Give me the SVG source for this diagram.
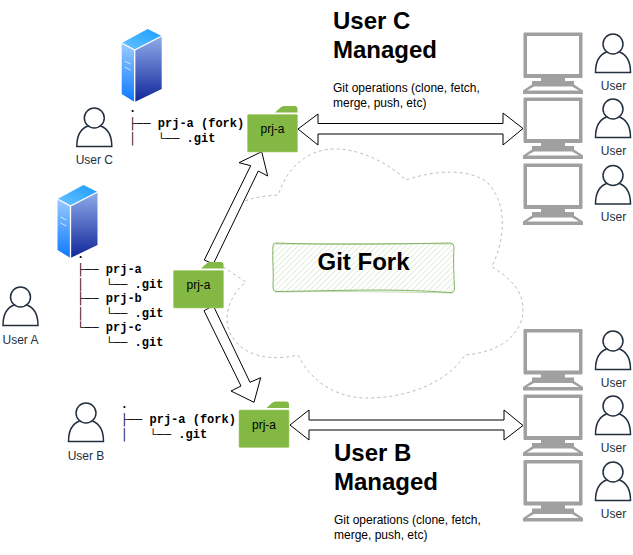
<svg xmlns="http://www.w3.org/2000/svg" xmlns:xlink="http://www.w3.org/1999/xlink" width="633" height="555" viewBox="0 0 633 555">
<style>
text{font-family:"Liberation Sans",Arial,sans-serif}
.lbl{font-size:12px;fill:#232F3E;text-anchor:middle}
.fl{font-size:12px;fill:#000;text-anchor:middle}
.tree{font-family:"Liberation Mono","Courier New",monospace;font-size:12px;font-weight:bold;fill:#000;white-space:pre}
.title{font-size:24px;font-weight:bold;fill:#000}
.note{font-size:12px;fill:#000}
.arrow{fill:#fff;stroke:#000;stroke-width:1;stroke-linejoin:miter}
</style>
<defs>
<linearGradient id="gL" x1="0" y1="0" x2="0" y2="1"><stop offset="0" stop-color="#9CCBFF"/><stop offset="1" stop-color="#0A78FF"/></linearGradient>
<linearGradient id="gR" x1="0" y1="0" x2="0" y2="1"><stop offset="0" stop-color="#8FADEB"/><stop offset="1" stop-color="#10269A"/></linearGradient>
<linearGradient id="gT" x1="0" y1="1" x2="1" y2="0"><stop offset="0" stop-color="#6CC4FF"/><stop offset="1" stop-color="#189CFF"/></linearGradient>
<pattern id="hatch" width="4" height="4" patternUnits="userSpaceOnUse" patternTransform="rotate(45)"><rect width="4" height="4" fill="#fff"/><rect width=".8" height="4" fill="#82B366" opacity=".3"/></pattern>
<g id="server">
<polygon points="0,14 26,0 40,7 13,21" fill="url(#gT)"/>
<polygon points="0,14 13,21 13,73 0,65" fill="url(#gL)"/>
<polygon points="13,21 40,7 40,60 13,73" fill="url(#gR)"/>
<path d="M0,14 13,21 40,7M13,21V73" fill="none" stroke="#fff" stroke-width="1.3"/>
<path d="M3,32 9,35M3,38 9,41" fill="none" stroke="#fff" stroke-width=".8" opacity=".85"/>
</g>
<g id="person" fill="none" stroke="#232F3E" stroke-width="1.500">
<circle cx="0" cy="0" r="10"/>
<path d="M-6.500,8C-13,10.500 -17.500,17.500 -17.500,28.500H17.500C17.500,17.500 13,10.500 6.500,8"/>
</g>
<g id="monitor">
<rect x=".5" y="0" width="59" height="45.500" rx="1" fill="#A0A0A0"/>
<rect x="4" y="3.500" width="52" height="38" fill="#fff"/>
<rect x="18" y="45" width="24" height="4" fill="#A0A0A0"/>
<rect x="9" y="48.500" width="42" height="4" fill="#A0A0A0"/>
<polygon points="9,52 51,52 60,58 60,61.500 0,61.500 0,58" fill="#A0A0A0"/>
<polygon points="11,54 49,54 56,58 4,58" fill="#fff"/>
</g>
<g id="folder">
<path d="M27.500,-2L33,-7Q34.500,-8.500 36.500,-8.500H47Q50,-8.500 50,-5.500V-2Z" fill="#82B843"/>
<rect x="0" y="0" width="50" height="37.500" rx="1" fill="#82B843" stroke="#A8D070" stroke-width=".6"/>
</g>
</defs>
<rect width="633" height="555" fill="#fff"/>

<g id="cloud"><path d="M223,267L246,282C233,292 227,307 227,320C228,345 255,365 298,355C310,380 335,398 367,398C407,398 447,383 465,355C505,352 523,330 523,310C523,290 510,278 491.700,266.700C505,240 508,205 488,183C470,168 435,170 406,180C385,160 355,148 333,149C305,150 286,170 278.300,195C265,196 255,197 245,201" fill="none" stroke="#BDBDBD" stroke-width="1" stroke-dasharray="3 3"/></g>

<g id="connectors">
<polygon class="arrow" points="298,129 318,114 318,123.500 503,123.500 503,113 523,128.500 503,145 503,134 318,134 318,145"/>
<polygon class="arrow" points="290,425 309,410 309,420 504,420 504,410 523,425.500 504,440 504,430 309,430 309,440"/>
<polygon class="arrow" points="204.300,260 250.700,165.700 239,162.700 261.700,151.700 267.700,176 258.300,171 213.300,264"/>
<polygon class="arrow" points="204,310.700 241,386 231,391 254,402.300 260.700,377.700 250,382.300 213.300,305.700"/>
</g>

<g id="server-c"><use href="#server" x="121.700" y="29"/></g>
<g id="server-a"><use href="#server" x="57.500" y="185"/></g>

<g id="user-c"><use href="#person" x="94.300" y="118"/><text class="lbl" x="94.300" y="164">User C</text></g>
<g id="user-a"><use href="#person" x="20.500" y="297"/><text class="lbl" x="20.500" y="344">User A</text></g>
<g id="user-b"><use href="#person" x="86" y="413"/><text class="lbl" x="86" y="460">User B</text></g>

<g id="tree-c">
<text class="tree" x="129" y="112" xml:space="preserve">.</text>
<text class="tree" x="129" y="127" xml:space="preserve">├── prj-a (fork)</text>
<text class="tree" x="129" y="142" xml:space="preserve">│   └── .git</text>
</g>
<g id="tree-a">
<text class="tree" x="77" y="258" xml:space="preserve">.</text>
<text class="tree" x="77" y="273" xml:space="preserve">├── prj-a</text>
<text class="tree" x="77" y="288" xml:space="preserve">│   └── .git</text>
<text class="tree" x="77" y="302" xml:space="preserve">├── prj-b</text>
<text class="tree" x="77" y="317" xml:space="preserve">│   └── .git</text>
<text class="tree" x="77" y="331" xml:space="preserve">└── prj-c</text>
<text class="tree" x="77" y="346" xml:space="preserve">    └── .git</text>
</g>
<g id="tree-b">
<text class="tree" x="120.700" y="408" xml:space="preserve">.</text>
<text class="tree" x="120.700" y="423" xml:space="preserve">├── prj-a (fork)</text>
<text class="tree" x="120.700" y="438" xml:space="preserve">│   └── .git</text>
</g>

<g id="folder-c"><use href="#folder" x="247.500" y="114.500"/><text class="fl" x="272.500" y="133">prj-a</text></g>
<g id="folder-a"><use href="#folder" x="173.500" y="270.500"/><text class="fl" x="198.500" y="289">prj-a</text></g>
<g id="folder-b"><use href="#folder" x="239" y="410"/><text class="fl" x="264" y="429">prj-a</text></g>

<g id="git-fork">
<path d="M276,243C330,245 400,244 450,243Q454,243 454,247C453,260 454,275 454.500,289Q454,293 450,292.500C390,288 330,291 276,291.500Q272.500,291 273,287C274,272 272,258 273,246Q273,243 276,243Z" fill="url(#hatch)" stroke="#82B366" stroke-width="1"/>
<path d="M276,244C330,244 400,243 451,244M275,292C340,291 400,292 453,293" fill="none" stroke="#82B366" stroke-width=".8" opacity=".6"/>
<text x="363.500" y="270" font-size="24" font-weight="bold" text-anchor="middle" fill="#000">Git Fork</text>
</g>

<g id="label-c">
<text class="title" x="333" y="29">User C</text>
<text class="title" x="333" y="58">Managed</text>
<text class="note" x="333" y="92">Git operations (clone, fetch,</text>
<text class="note" x="333" y="107">merge, push, etc)</text>
</g>
<g id="label-b">
<text class="title" x="334" y="461">User B</text>
<text class="title" x="334" y="490">Managed</text>
<text class="note" x="334" y="524">Git operations (clone, fetch,</text>
<text class="note" x="334" y="539">merge, push, etc)</text>
</g>

<g id="client-1"><use href="#monitor" x="523" y="32.500"/><use href="#person" x="613" y="44"/><text class="lbl" x="613.500" y="90">User</text></g>
<g id="client-2"><use href="#monitor" x="523" y="97.500"/><use href="#person" x="613" y="109"/><text class="lbl" x="613.500" y="155">User</text></g>
<g id="client-3"><use href="#monitor" x="523" y="163.500"/><use href="#person" x="613" y="175.500"/><text class="lbl" x="613.500" y="221">User</text></g>
<g id="client-4"><use href="#monitor" x="523" y="329"/><use href="#person" x="613" y="341"/><text class="lbl" x="613.500" y="387">User</text></g>
<g id="client-5"><use href="#monitor" x="523" y="394.500"/><use href="#person" x="613" y="406"/><text class="lbl" x="613.500" y="452">User</text></g>
<g id="client-6"><use href="#monitor" x="523" y="460"/><use href="#person" x="613" y="472"/><text class="lbl" x="613.500" y="518">User</text></g>
</svg>
